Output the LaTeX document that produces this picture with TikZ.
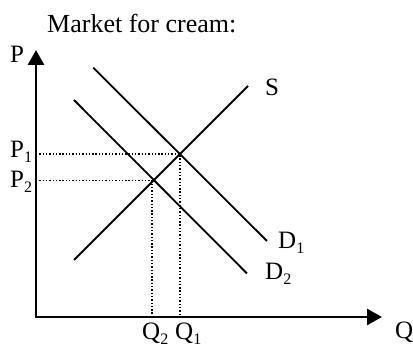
\documentclass[tikz,border=0pt]{standalone}
\usepackage{fontspec}
\setmainfont{Liberation Serif}
\usetikzlibrary{arrows.meta}
\newcommand{\lsub}[1]{\raisebox{-5pt}{\fontsize{16}{16}\selectfont #1}}
\begin{document}
\begin{tikzpicture}[x=1pt,y=-1pt,
  axisline/.style={line width=2.6pt,line join=miter,
    {Triangle[length=15pt,width=16pt]}-{Triangle[length=15pt,width=16pt]}},
  curve/.style={line width=1.8pt},
  guide/.style={line width=1.4pt,dash pattern=on 1.4pt off 1.9pt},
  lbl/.style={inner sep=0pt,anchor=base west,font=\fontsize{25}{30}\selectfont}]
\useasboundingbox (0,0) rectangle (413,347);
% coordinates
\coordinate (ytop) at (36,50);
\coordinate (orig) at (36,317);
\coordinate (xend) at (382,317);
\coordinate (S0) at (74,260);
\coordinate (S1) at (248,86);
\coordinate (Da0) at (93.3,67.7);
\coordinate (Da1) at (267,241);
\coordinate (Db0) at (74,100);
\coordinate (Db1) at (247,273.5);
\coordinate (E1) at (180,154);
\coordinate (E2) at (154,180.5);
\coordinate (yP1) at (36,154);
\coordinate (yP2) at (36,180.5);
\coordinate (xQ1) at (180,317);
\coordinate (xQ2) at (152,317);
% guides
\draw[guide] (yP1) -- (E1) -- (xQ1);
\draw[guide] (yP2) -- (E2);
\draw[guide] (xQ2 |- E2) -- (xQ2);
% curves
\draw[curve] (S0) -- (S1);
\draw[curve] (Da0) -- (Da1);
\draw[curve] (Db0) -- (Db1);
% axes
\draw[axisline] (ytop) -- (orig) -- (xend);
% labels
\node[lbl,font=\fontsize{26}{30}\selectfont] (title) at (47,33) {Market for cream:};
\node[lbl] (lP) at (10,63) {P};
\node[lbl] (lP1) at (10,158) {P\lsub{1}};
\node[lbl] (lP2) at (10,188) {P\lsub{2}};
\node[lbl] (lQ2) at (142,340) {Q\lsub{2}};
\node[lbl] (lQ1) at (175,340) {Q\lsub{1}};
\node[lbl] (lQ) at (395,339) {Q};
\node[lbl] (lS) at (265,96) {S};
\node[lbl] (lD1) at (278,249) {D\lsub{1}};
\node[lbl] (lD2) at (265,280) {D\lsub{2}};
\end{tikzpicture}
\end{document}
